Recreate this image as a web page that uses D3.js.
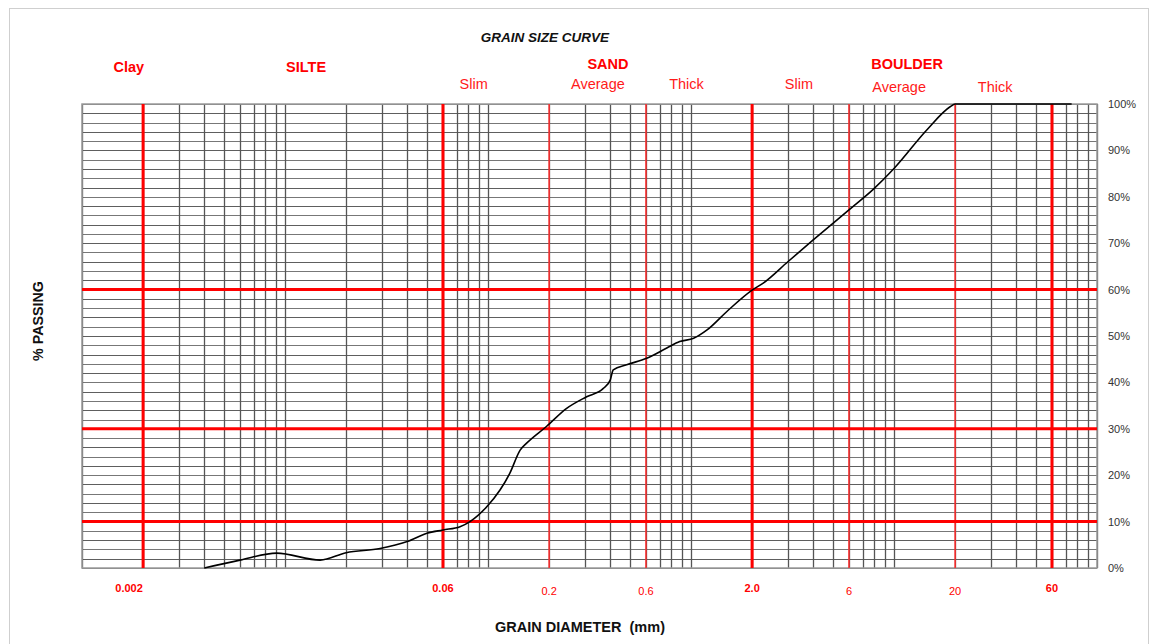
<!DOCTYPE html>
<html>
<head>
<meta charset="utf-8">
<script src="https://cdn.jsdelivr.net/npm/d3@7"></script>
<style>
  html, body { margin: 0; padding: 0; background: #fff; }
  svg { display: block; font-family: "Liberation Sans", Arial, sans-serif; }
</style>
</head>
<body>
<svg id="chart" width="1152" height="644"></svg>
<script>
// Grain size distribution: diameter (mm) vs. percent passing
const diameters = [0.004, 0.006, 0.0091, 0.0149, 0.02, 0.0294, 0.04, 0.05, 0.06, 0.0728,
  0.0815, 0.0986, 0.1146, 0.128, 0.144, 0.155, 0.194, 0.244, 0.306, 0.37, 0.40, 0.414,
  0.482, 0.605, 0.76, 0.88, 1.03, 1.2, 1.52, 2.0, 2.27, 3.0, 4.0, 6.0, 7.9, 10, 14.5,
  18.9, 20, 75];
const passing = [0, 1.7, 3.2, 1.7, 3.3, 4.2, 5.7, 7.5, 8.2, 8.9,
  10, 13.2, 16.8, 20.4, 25.4, 26.9, 30.5, 34.4, 36.9, 38.7, 40.5, 42.7,
  43.8, 45.2, 47.4, 48.8, 49.5, 51.3, 55.5, 59.9, 61.4, 66, 70.7, 77.2, 81.6, 86.1, 94.4,
  99.4, 100, 100];

// Bottom labels on the diameter axis
const xTickValues = [0.002, 0.06, 0.2, 0.6, 2.0, 6, 20, 60];
const xTickLabels = ["0.002", "0.06", "0.2", "0.6", "2.0", "6", "20", "60"];
const xTickMajor = [true, true, false, false, true, false, false, true];

// Percent axis labels
const yTickValues = [0, 10, 20, 30, 40, 50, 60, 70, 80, 90, 100];

// Red classification boundaries
const majorBoundaries = [0.002, 0.06, 2.0, 60];
const minorBoundaries = [0.2, 0.6, 6, 20];
const pctBoundaries = [10, 30, 60];

// Soil class headings above the plot
const classNames = ["Clay", "SILTE", "SAND", "BOULDER"];
const classAt = [0.0017, 0.0127, 0.39, 11.6];
const subNames = ["Slim", "Average", "Thick", "Slim", "Average", "Thick"];
const subAt = [0.085, 0.348, 0.95, 3.4, 10.6, 31.5];

const svg = d3.select("#chart");
const margin = { left: 82, right: 1097, top: 104, bottom: 568 };

const x = d3.scaleLog().domain([0.001, 100]).range([margin.left, margin.right]);
const y = d3.scaleLinear().domain([0, 100]).range([margin.bottom, margin.top]);

// outer frame
svg.append("rect")
  .attr("x", 9.5).attr("y", 8.5).attr("width", 1139).attr("height", 640)
  .attr("fill", "none").attr("stroke", "#cfcfcf").attr("stroke-width", 1);

// logarithmic vertical grid (1..9 per decade)
const logLines = [];
for (let e = -3; e <= 1; e++) {
  for (let m = 1; m <= 9; m++) logLines.push(+(m * Math.pow(10, e)).toPrecision(6));
}
logLines.push(100);

const grid = svg.append("g").attr("class", "grid");
grid.selectAll("line.h")
  .data(d3.range(0, 101, 2))
  .join("line")
  .attr("class", "h")
  .attr("x1", x(0.001)).attr("x2", x(100))
  .attr("y1", d => Math.round(y(d)) + 0.5).attr("y2", d => Math.round(y(d)) + 0.5)
  .attr("stroke", (d, i) => i % 2 ? "#5e5e5e" : "#777")
  .attr("stroke-width", 1.2);

grid.selectAll("line.v")
  .data(logLines)
  .join("line")
  .attr("class", "v")
  .attr("x1", d => Math.round(x(d)) + 0.5).attr("x2", d => Math.round(x(d)) + 0.5)
  .attr("y1", y(0)).attr("y2", y(100))
  .attr("stroke", "#555")
  .attr("stroke-width", 1.3);

// plot border
svg.append("rect")
  .attr("x", x(0.001)).attr("y", y(100))
  .attr("width", x(100) - x(0.001)).attr("height", y(0) - y(100))
  .attr("fill", "none").attr("stroke", "#9a9a9a").attr("stroke-width", 1.5);

// red boundaries
const red = svg.append("g").attr("class", "boundaries");
red.selectAll("line.minor")
  .data(minorBoundaries)
  .join("line")
  .attr("class", "minor")
  .attr("x1", d => x(d)).attr("x2", d => x(d))
  .attr("y1", y(0)).attr("y2", y(100))
  .attr("stroke", "#ff2a2a").attr("stroke-width", 1.5);
red.selectAll("line.hp")
  .data(pctBoundaries)
  .join("line")
  .attr("class", "hp")
  .attr("x1", x(0.001)).attr("x2", x(100))
  .attr("y1", d => y(d)).attr("y2", d => y(d))
  .attr("stroke", "#ff0000").attr("stroke-width", 3);
red.selectAll("line.major")
  .data(majorBoundaries)
  .join("line")
  .attr("class", "major")
  .attr("x1", d => x(d)).attr("x2", d => x(d))
  .attr("y1", y(0)).attr("y2", y(100))
  .attr("stroke", "#ff0000").attr("stroke-width", 3);

// grading curve
const line = d3.line()
  .x((d, i) => x(diameters[i]))
  .y(d => y(d))
  .curve(d3.curveMonotoneX);
svg.append("path")
  .datum(passing)
  .attr("d", line)
  .attr("fill", "none")
  .attr("stroke", "#000")
  .attr("stroke-width", 1.6);

// diameter axis labels
svg.append("g").selectAll("text")
  .data(xTickValues)
  .join("text")
  .attr("x", (d, i) => x(d) - (i === 0 ? 14 : 0))
  .attr("y", (d, i) => xTickMajor[i] ? 592 : 595)
  .attr("text-anchor", "middle")
  .attr("font-size", 11)
  .attr("font-weight", (d, i) => xTickMajor[i] ? "bold" : "normal")
  .attr("fill", "#ff0000")
  .text((d, i) => xTickLabels[i]);

// percent axis labels
svg.append("g").selectAll("text")
  .data(yTickValues)
  .join("text")
  .attr("x", 1108)
  .attr("y", d => y(d) + 4)
  .attr("font-size", 11)
  .attr("fill", "#333")
  .text(d => d + "%");

// class headings
svg.append("g").selectAll("text")
  .data(classNames)
  .join("text")
  .attr("x", (d, i) => x(classAt[i]))
  .attr("y", (d, i) => i < 2 ? 72 : 69)
  .attr("text-anchor", "middle")
  .attr("font-size", 14.5)
  .attr("font-weight", "bold")
  .attr("fill", "#ff0000")
  .text(d => d);

svg.append("g").selectAll("text")
  .data(subNames)
  .join("text")
  .attr("x", (d, i) => x(subAt[i]))
  .attr("y", (d, i) => i < 4 ? 89 : 92)
  .attr("text-anchor", "middle")
  .attr("font-size", 14.5)
  .attr("fill", "#ff1a1a")
  .text(d => d);

// titles
svg.append("text")
  .attr("x", 545).attr("y", 42)
  .attr("text-anchor", "middle")
  .attr("font-size", 13.5)
  .attr("font-weight", "bold")
  .attr("font-style", "italic")
  .attr("fill", "#111")
  .text("GRAIN SIZE CURVE");

svg.append("text")
  .attr("x", 580).attr("y", 632)
  .attr("text-anchor", "middle")
  .attr("font-size", 14.5)
  .attr("font-weight", "bold")
  .attr("fill", "#111")
  .attr("xml:space", "preserve")
  .style("white-space", "pre")
  .text("GRAIN DIAMETER  (mm)");

svg.append("text")
  .attr("transform", "translate(43,321) rotate(-90)")
  .attr("text-anchor", "middle")
  .attr("font-size", 14.3)
  .attr("font-weight", "bold")
  .attr("fill", "#111")
  .text("% PASSING");
</script>
</body>
</html>
